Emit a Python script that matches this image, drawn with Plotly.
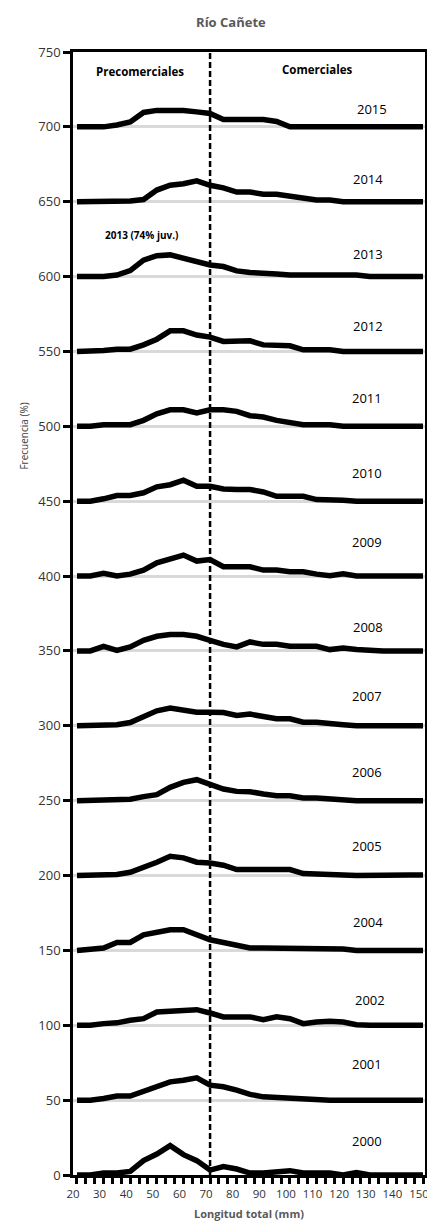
import plotly.graph_objects as go

lengths = [20, 25, 30, 35, 40, 45, 50, 55, 60, 65, 70, 75, 80, 85, 90, 95, 100,
           105, 110, 115, 120, 125, 130, 135, 140, 145, 150]

years = ["2015", "2014", "2013", "2012", "2011", "2010", "2009", "2008",
         "2007", "2006", "2005", "2004", "2002", "2001", "2000"]
offsets = [700, 650, 600, 550, 500, 450, 400, 350, 300, 250, 200, 150, 100, 50, 0]

f2015 = [0, 0, 0, 1.3, 3.3, 9.6, 11, 11, 11, 10, 8.9, 4.9, 4.9, 4.9, 4.9, 3.6, 0, 0, 0, 0, 0, 0, 0, 0, 0, 0, 0]
f2014 = [0, 0, 0.5, 0.5, 0.5, 1.5, 7.8, 11, 12, 14, 11, 9.3, 6.5, 6.5, 5, 5, 4, 2.2, 1.1, 1.1, 0, 0, 0, 0, 0, 0, 0]
f2013 = [0, 0, 0, 1, 4, 11, 14, 14.5, 12, 10, 7.8, 6.7, 3.8, 2.7, 2.7, 1.8, 1.1, 1.1, 1.1, 1.1, 1.1, 1.1, 0, 0, 0, 0, 0]
f2012 = [0, 0, 0.7, 1.5, 1.5, 4.4, 8.2, 13.8, 13.8, 11, 9.6, 6.7, 6.7, 7.1, 4.4, 3.8, 3.8, 1.1, 1.1, 1.1, 0, 0, 0, 0, 0, 0, 0]
f2011 = [0, 0, 1.1, 1.1, 1.1, 4, 8.4, 11, 11, 8.9, 11, 11, 10, 7.1, 6.2, 4, 2.7, 1.1, 1.1, 1.1, 0, 0, 0, 0, 0, 0, 0]
f2010 = [0, 0, 1.6, 3.8, 3.8, 5.6, 9.6, 11, 14, 10, 10, 8.2, 7.8, 7.8, 6.2, 3.3, 3.3, 3.3, 1.1, 1.1, 0.7, 0, 0, 0, 0, 0, 0]
f2009 = [0, 0, 1.8, 0, 1.3, 4, 8.9, 11, 14, 10, 11, 6.2, 6.2, 6.2, 4, 4, 2.9, 2.9, 1.3, 0.2, 1.5, 0, 0, 0, 0, 0, 0]
f2008 = [0, 0, 3.1, 0.4, 2.7, 7.1, 9.8, 11, 11, 9.8, 7.1, 4.4, 2.7, 6, 4.4, 4.4, 3.1, 3.1, 3.1, 0.9, 2, 0.9, 0, 0, 0, 0, 0]
f2007 = [0, 0, 0, 0.7, 2.2, 6.2, 10, 11.8, 10.7, 9.1, 9.1, 8.9, 6.9, 7.8, 6.2, 4.7, 4.7, 2.4, 2.4, 1.1, 0.7, 0, 0, 0, 0, 0, 0]
f2006 = [0, 0, 0, 0.4, 0.9, 2.7, 4, 8.9, 12.2, 14, 10.7, 7.8, 6.2, 6, 4.4, 3.3, 3.3, 1.8, 1.8, 1.1, 0, 0, 0, 0, 0, 0, 0]
f2005 = [0, 0, 0, 0.7, 2.2, 5.1, 8.9, 12.9, 11.8, 8.9, 8.4, 6.9, 4, 4, 4, 4, 4, 1.3, 1.3, 0.5, 0.4, 0, 0.3, 0.3, 0.3, 0.3, 0.3]
f2004 = [0, 0.4, 1.6, 5.3, 5.3, 10.4, 12, 13.8, 13.8, 10.9, 7.1, 5.3, 3.8, 1.6, 1.6, 1.6, 1.6, 1.6, 1.6, 1.6, 0.9, 0, 0, 0, 0, 0, 0]
f2002 = [0, 0, 1.1, 1.6, 3.3, 4.4, 8.9, 9.3, 10.4, 10.4, 8.2, 5.6, 5.6, 5.6, 3.8, 5.6, 4.4, 1.1, 2.2, 2.7, 2.2, 0.4, 0, 0, 0, 0, 0]
f2001 = [0, 0, 1.1, 2.7, 2.7, 5.6, 8.4, 12.2, 13.3, 14.9, 10, 8.9, 6.7, 3.8, 2.2, 1.6, 1.1, 1.1, 0, 0, 0, 0, 0, 0, 0, 0, 0]
f2000 = [0, 0, 1.3, 1.3, 2.4, 9.6, 14, 19.6, 13.6, 9.6, 3.3, 5.6, 4, 1.3, 1.3, 2.4, 2.9, 1.3, 1.3, 1.3, 0, 1.6, 0, 0, 0, 0, 0]

series = [f2015, f2014, f2013, f2012, f2011, f2010, f2009, f2008,
          f2007, f2006, f2005, f2004, f2002, f2001, f2000]

label_x = [131, 129.5, 129.5, 129.5, 129, 129, 129, 129.5, 129, 129, 129, 129.5, 130, 129, 129]
label_dy = [11.7, 15, 15, 17, 19, 19, 22.5, 16.3, 20, 19, 20, 19, 17, 24, 23]

cut_length = 70
y_ticks = [0, 50, 100, 150, 200, 250, 300, 350, 400, 450, 500, 550, 600, 650, 700, 750]

fig = go.Figure()
for yr, off, vals in zip(years, offsets, series):
    fig.add_trace(go.Scatter(
        x=lengths, y=[v + off for v in vals], mode="lines", name=yr,
        line=dict(color="black", width=5.5), showlegend=False, hoverinfo="skip"))

fig.add_shape(type="line", x0=cut_length, x1=cut_length, y0=0, y1=750,
              xref="x", yref="y", line=dict(color="black", width=2.5, dash="6px,3px"))

for yr, off, lx, dy in zip(years, offsets, label_x, label_dy):
    fig.add_annotation(x=lx, y=off + dy, text=yr, showarrow=False,
                       font=dict(family="Open Sans", size=13, color="black"))

fig.add_annotation(x=44.3, y=627.7, text="<b>2013 (74% juv.)</b>", showarrow=False,
                   font=dict(family="Open Sans", size=10, color="black"))
fig.add_annotation(x=43.7, y=737, text="<b>Precomerciales</b>", showarrow=False,
                   font=dict(family="Open Sans", size=11.5, color="black"))
fig.add_annotation(x=110.2, y=738, text="<b>Comerciales</b>", showarrow=False,
                   font=dict(family="Open Sans", size=11.5, color="black"))
fig.add_annotation(xref="paper", yref="paper", x=-0.165, y=0.69, text="Frecuencia (%)",
                   textangle=-90, showarrow=False,
                   font=dict(family="Open Sans", size=10, color="#404040"))
fig.add_annotation(xref="paper", yref="paper", x=0.5, y=-0.034, yanchor="middle",
                   text="<b>Longitud total (mm)</b>", showarrow=False,
                   font=dict(family="Open Sans", size=11, color="#595959"))

fig.update_layout(
    width=427, height=1213,
    margin=dict(l=65, r=10, t=44, b=45.5, autoexpand=False),
    paper_bgcolor="white", plot_bgcolor="white",
    title=dict(text="<b>Río Cañete</b>", x=0.522, xanchor="center", y=1 - 14 / 1213, yanchor="middle",
               font=dict(family="Open Sans", size=13, color="#595959")),
    xaxis=dict(range=[18.5, 150.75], tick0=20, dtick=10, ticks="outside", ticklen=6,
               tickwidth=3, tickcolor="black", showgrid=False, zeroline=False,
               showline=True, linecolor="black", linewidth=2.5, mirror=True,
               automargin=False, ticklabeloverflow="allow", ticklabelshift=-4,
               minor=dict(tick0=20, dtick=10 / 3, ticks="outside", ticklen=6,
                          tickwidth=3, tickcolor="black", showgrid=False),
               tickfont=dict(family="Open Sans", size=11.5, color="#333333")),
    yaxis=dict(range=[0, 750], tickvals=y_ticks, ticks="outside", ticklen=7,
               tickwidth=3, tickcolor="black", showgrid=True, gridcolor="#d9d9d9",
               gridwidth=3, zeroline=False, showline=True, linecolor="black",
               linewidth=2.5, mirror=True, automargin=False,
               tickfont=dict(family="Open Sans", size=13, color="#333333")),
)

fig.write_html("out.html")
